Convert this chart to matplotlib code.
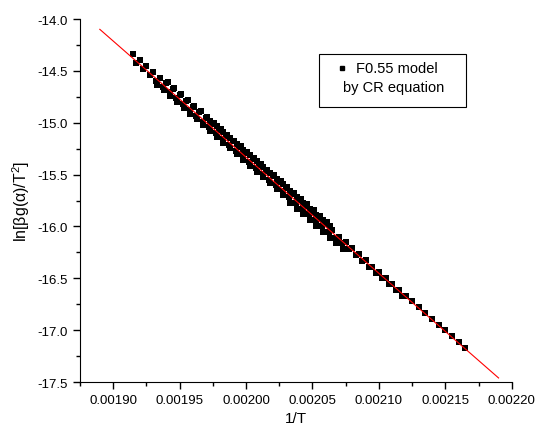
import matplotlib
matplotlib.use("Agg")
import matplotlib.pyplot as plt
from matplotlib.patches import Rectangle
from matplotlib.ticker import MultipleLocator, FormatStrFormatter

plt.rcParams['font.family'] = ['Liberation Sans', 'DejaVu Sans']
plt.rcParams['mathtext.fontset'] = 'custom'
plt.rcParams['mathtext.rm'] = 'Liberation Sans'
plt.rcParams['mathtext.it'] = 'Liberation Sans'

# -----------------------------
# Data
# -----------------------------
# series 1 - long run, upper band then tail
x1 = [0.001915, 0.001920, 0.001925, 0.001930, 0.001935, 0.001940, 0.001945, 0.001950,
      0.001955, 0.001960, 0.001965, 0.001970, 0.001975, 0.001980, 0.001985, 0.001990,
      0.001995, 0.002000, 0.002005, 0.002010, 0.002015, 0.002020, 0.002025, 0.002030,
      0.002035, 0.002040, 0.002045, 0.002050, 0.002055, 0.002060, 0.002065, 0.002070,
      0.002075, 0.002080, 0.002085, 0.002090, 0.002095, 0.002100, 0.002105, 0.002110,
      0.002115, 0.002120, 0.002125, 0.002130, 0.002135, 0.002140, 0.002145, 0.002150,
      0.002155, 0.002160, 0.002165]
y1 = [-14.340, -14.396, -14.452, -14.508, -14.564, -14.620, -14.676, -14.732,
      -14.788, -14.844, -14.900, -14.956, -15.012, -15.068, -15.124, -15.180,
      -15.236, -15.292, -15.348, -15.404, -15.461, -15.517, -15.573, -15.629,
      -15.685, -15.741, -15.807, -15.863, -15.919, -15.975, -16.031, -16.097,
      -16.153, -16.209, -16.265, -16.321, -16.387, -16.443, -16.499, -16.555,
      -16.611, -16.667, -16.723, -16.779, -16.835, -16.891, -16.947, -17.003,
      -17.059, -17.115, -17.171]

# series 2 - lower band
x2 = [0.001933, 0.001938, 0.001943, 0.001948, 0.001953, 0.001958, 0.001963, 0.001968,
      0.001973, 0.001978, 0.001983, 0.001988, 0.001993, 0.001998, 0.002003, 0.002008,
      0.002013, 0.002018, 0.002023, 0.002028, 0.002033, 0.002038, 0.002043, 0.002048,
      0.002053, 0.002058, 0.002063, 0.002068, 0.002073]
y2 = [-14.631, -14.687, -14.743, -14.799, -14.855, -14.911, -14.967, -15.023,
      -15.079, -15.135, -15.191, -15.247, -15.303, -15.359, -15.415, -15.471,
      -15.527, -15.583, -15.639, -15.695, -15.772, -15.828, -15.884, -15.940,
      -15.996, -16.052, -16.108, -16.164, -16.220]

# series 3 - short run with bump
x3 = [0.001973, 0.001978, 0.001983, 0.001988, 0.001993, 0.001998, 0.002003, 0.002008,
      0.002013, 0.002018, 0.002023, 0.002028, 0.002033, 0.002038, 0.002043, 0.002048,
      0.002053, 0.002058, 0.002063]
y3 = [-14.979, -15.035, -15.091, -15.147, -15.203, -15.259, -15.315, -15.371,
      -15.427, -15.483, -15.539, -15.595, -15.661, -15.717, -15.773, -15.829,
      -15.885, -15.941, -15.997]

# series 4 - middle band
x4 = [0.0019175, 0.0019225, 0.0019275, 0.0019325, 0.0019375, 0.0019425, 0.0019475,
      0.0019525, 0.0019575, 0.0019625, 0.0019675, 0.0019725, 0.0019775, 0.0019825,
      0.0019875, 0.0019925, 0.0019975, 0.0020025, 0.0020075, 0.0020125, 0.0020175,
      0.0020225, 0.0020275, 0.0020325, 0.0020375, 0.0020425, 0.0020475, 0.0020525,
      0.0020575, 0.0020625, 0.0020675, 0.0020725, 0.0020775, 0.0020825, 0.0020875,
      0.0020925, 0.0020975, 0.0021025, 0.0021075, 0.0021125, 0.0021175]
y4 = [-14.428, -14.484, -14.540, -14.596, -14.652, -14.708, -14.764,
      -14.820, -14.876, -14.932, -14.988, -15.044, -15.100, -15.156,
      -15.212, -15.268, -15.324, -15.380, -15.436, -15.492, -15.548,
      -15.604, -15.660, -15.716, -15.772, -15.828, -15.884, -15.940,
      -15.996, -16.052, -16.108, -16.164, -16.220, -16.276, -16.332,
      -16.388, -16.444, -16.500, -16.556, -16.612, -16.668]

# series 5 - upper edge of the dense part
x5 = [0.001941, 0.001946, 0.001951, 0.001956, 0.001961, 0.001966, 0.001971, 0.001976,
      0.001981, 0.001986, 0.001991, 0.001996, 0.002001, 0.002006, 0.002011, 0.002016,
      0.002021, 0.002026, 0.002031, 0.002036, 0.002041, 0.002046, 0.002051, 0.002056,
      0.002061]
y5 = [-14.611, -14.667, -14.723, -14.779, -14.835, -14.891, -14.947, -15.003,
      -15.059, -15.115, -15.171, -15.227, -15.283, -15.339, -15.395, -15.451,
      -15.507, -15.563, -15.619, -15.675, -15.731, -15.787, -15.843, -15.899,
      -15.955]

# linear fit
fit_x = [0.00189, 0.00219]
fit_y = [-14.099, -17.461]

# -----------------------------
# Plot
# -----------------------------
fig = plt.figure(figsize=(5.36, 4.27), dpi=100)
ax = fig.add_axes([0.149, 0.103, 0.806, 0.850])

for xs, ys in [(x1, y1), (x2, y2), (x3, y3), (x4, y4), (x5, y5)]:
    ax.plot(xs, ys, linestyle="none", marker="s", markersize=5,
            color="black", markeredgewidth=0)

ax.plot(fit_x, fit_y, color="red", linewidth=0.8)

ax.set_xlim(0.001875, 0.00220)
ax.set_ylim(-17.5, -14.0)

ax.spines["top"].set_visible(False)
ax.spines["right"].set_visible(False)

ax.xaxis.set_major_locator(MultipleLocator(0.00005))
ax.xaxis.set_minor_locator(MultipleLocator(0.000025))
ax.xaxis.set_major_formatter(FormatStrFormatter("%.5f"))
ax.yaxis.set_major_locator(MultipleLocator(0.5))
ax.yaxis.set_minor_locator(MultipleLocator(0.25))
ax.yaxis.set_major_formatter(FormatStrFormatter("%.1f"))
ax.tick_params(which="major", direction="out", length=5, width=1, labelsize=9.5)
ax.tick_params(which="minor", direction="out", length=3, width=1)

ax.set_xlabel("1/T", fontsize=11)
ax.set_ylabel(r"ln[$\beta$g($\alpha$)/T$^2$]", fontsize=11.5)

# legend box
ax.add_patch(Rectangle((0.553, 0.758), 0.341, 0.146, transform=ax.transAxes,
                       facecolor="white", edgecolor="black", linewidth=0.8, zorder=4))
ax.text(0.733, 0.865, "F0.55 model", transform=ax.transAxes,
        ha="center", va="center", fontsize=10.5, zorder=5)
ax.text(0.727, 0.813, "by CR equation", transform=ax.transAxes,
        ha="center", va="center", fontsize=10.5, zorder=5)
ax.plot([0.606], [0.865], transform=ax.transAxes, marker="s", markersize=3.5,
        color="black", linestyle="none", zorder=5, clip_on=False)

plt.savefig("out.png", dpi=100)
